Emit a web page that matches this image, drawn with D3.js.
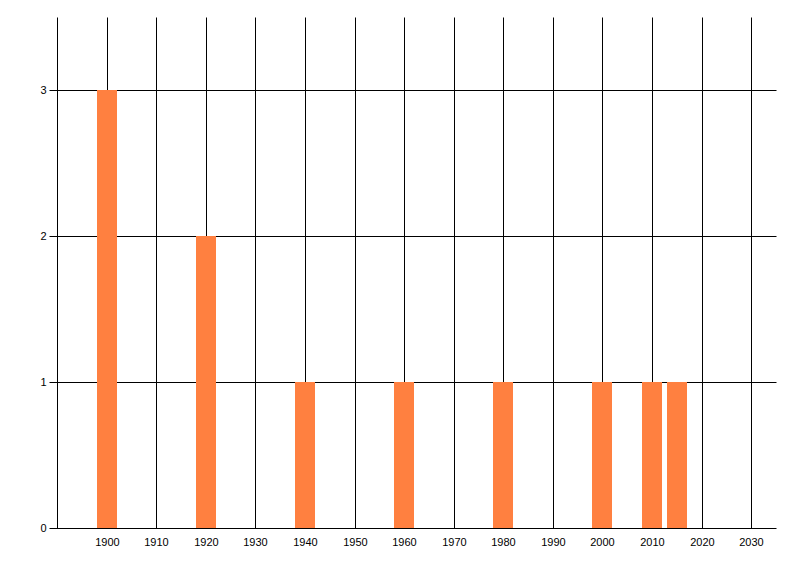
<!DOCTYPE html>
<html>
<head>
<meta charset="utf-8">
<script src="https://cdn.jsdelivr.net/npm/d3@7"></script>
<style>
  body { margin: 0; background: #fff; }
  text { font-family: "Liberation Sans", Arial, sans-serif; font-size: 11px; fill: #000; }
</style>
</head>
<body>
<div id="chart"></div>
<script>
// data
let years = [1900, 1920, 1940, 1960, 1980, 2000, 2010, 2015];
let counts = [3, 2, 1, 1, 1, 1, 1, 1];
let xTicks = [1900, 1910, 1920, 1930, 1940, 1950, 1960, 1970, 1980, 1990, 2000, 2010, 2020, 2030];
let yTicks = [0, 1, 2, 3];

let width = 800;
let height = 576;
let margin = { top: 17, right: 24, bottom: 48, left: 57 };
let w = width - margin.left - margin.right;
let h = height - margin.top - margin.bottom;

let svg = d3.select('#chart')
  .append('svg')
  .attr('width', width)
  .attr('height', height)
  .append('g')
  .attr('transform', 'translate(' + (margin.left + 0.5) + ',' + (margin.top + 0.5) + ')');

let x = d3.scaleLinear().domain([1890, 2035]).range([0, w]);
let y = d3.scaleLinear().domain([0, 3.5]).range([h, 0]);

// vertical grid lines (incl. the y axis at 1890)
svg.selectAll('line.vgrid')
  .data([1890].concat(xTicks))
  .enter()
  .append('line')
  .attr('class', 'vgrid')
  .attr('x1', d => Math.round(x(d)))
  .attr('x2', d => Math.round(x(d)))
  .attr('y1', 0)
  .attr('y2', h)
  .attr('stroke', '#000');

// horizontal grid lines with the little tick stub on the left
svg.selectAll('line.hgrid')
  .data(yTicks)
  .enter()
  .append('line')
  .attr('class', 'hgrid')
  .attr('x1', -8)
  .attr('x2', w)
  .attr('y1', d => Math.round(y(d)))
  .attr('y2', d => Math.round(y(d)))
  .attr('stroke', '#000');

// bars
let barW = 20;
svg.selectAll('rect')
  .data(years.map((yr, i) => ({ yr: yr, n: counts[i] })))
  .enter()
  .append('rect')
  .attr('x', d => Math.round(x(d.yr)) - barW / 2 - 0.5)
  .attr('width', barW)
  .attr('y', d => Math.round(y(d.n)) - 0.5)
  .attr('height', d => Math.round(y(0)) - Math.round(y(d.n)))
  .attr('fill', '#ff8040');

// y labels
svg.selectAll('text.ylab')
  .data(yTicks)
  .enter()
  .append('text')
  .attr('class', 'ylab')
  .attr('x', -11)
  .attr('y', d => Math.round(y(d)))
  .attr('dy', '0.35em')
  .attr('text-anchor', 'end')
  .text(d => d);

// x labels
svg.selectAll('text.xlab')
  .data(xTicks)
  .enter()
  .append('text')
  .attr('class', 'xlab')
  .attr('x', d => Math.round(x(d)))
  .attr('y', h + 17)
  .attr('text-anchor', 'middle')
  .text(d => d);
</script>
</body>
</html>
